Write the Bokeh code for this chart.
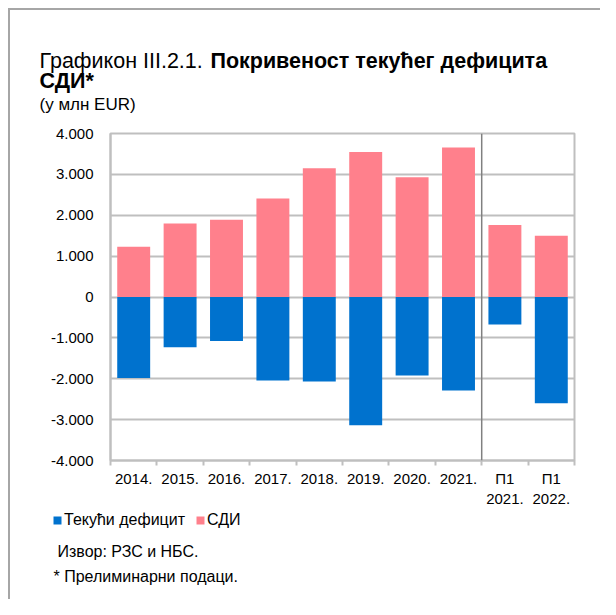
from bokeh.plotting import figure
from bokeh.layouts import column
from bokeh.models import (FixedTicker, Span, Legend, LegendItem, ColumnDataSource, Range1d)
from bokeh.core.properties import value
from bokeh.embed import file_html
from bokeh.resources import INLINE

# ---- data ----
categories = ["2014.", "2015.", "2016.", "2017.", "2018.", "2019.", "2020.", "2021.",
              "П1\n2021.", "П1\n2022."]
fdi = [1230, 1800, 1890, 2410, 3150, 3550, 2930, 3660, 1760, 1500]
current_deficit = [-1980, -1230, -1075, -2040, -2070, -3140, -1920, -2290, -670, -2600]
y_ticks = [-4000, -3000, -2000, -1000, 0, 1000, 2000, 3000, 4000]
y_tick_labels = ["-4.000", "-3.000", "-2.000", "-1.000", "0", "1.000", "2.000", "3.000", "4.000"]
series_names = ["Текући дефицит", "СДИ"]
title_regular = "Графикон III.2.1. "
title_bold_1 = "Покривеност текућег дефицита"
title_bold_2 = "СДИ*"
subtitle = "(у млн EUR)"
notes = ["Извор: РЗС и НБС.", "* Прелиминарни подаци."]

BLUE = "#0072CE"
PINK = "#FF808C"
GRID = "#BFBFBF"
FONT = "Liberation Sans"
TXT = "#000000"

W = 590
HH = 110          # header height
HM = 389          # main chart height
HF = 90           # footer height
OFFX = 100000     # footer offsets (keep its legend-only bars out of view)
OFFY = 100000

xs = list(range(len(categories)))
src = ColumnDataSource(dict(x=xs, fdi=fdi, cd=current_deficit))


def no_align(f):
    try:
        f.frame_align = False
    except Exception:
        pass


def blank(h, x0=0, y0=0):
    f = figure(width=W, height=h, output_backend="svg", toolbar_location=None,
               x_range=Range1d(x0, x0 + W), y_range=Range1d(y0 + h, y0),
               x_axis_location=None, y_axis_location=None,
               min_border=0, outline_line_color=None)
    f.grid.visible = False
    f.background_fill_color = "white"
    f.border_fill_color = "white"
    no_align(f)
    return f


# ---- header ----
head = blank(HH)
TS = 21.5
TX = 29
head.text(x=[TX], y=[50], text=[title_regular], text_font=value(FONT), text_font_size=value(f"{TS}px"),
          text_color=TXT, text_baseline="middle")
head.text(x=[TX + 7.95 * TS], y=[50], text=[title_bold_1], text_font=value(FONT),
          text_font_size=value(f"{TS}px"), text_font_style="bold", text_color=TXT, text_baseline="middle")
head.text(x=[TX], y=[70], text=[title_bold_2], text_font=value(FONT), text_font_size=value(f"{TS}px"),
          text_font_style="bold", text_color=TXT, text_baseline="middle")
head.text(x=[TX], y=[94], text=[subtitle], text_font=value(FONT), text_font_size=value("17px"),
          text_color=TXT, text_baseline="middle")

# ---- main chart ----
p = figure(width=W, height=HM, output_backend="svg", toolbar_location=None,
           x_range=(-0.5, len(categories) - 0.5), y_range=(-4000, 4000),
           min_border_left=100, min_border_right=26, min_border_top=13, min_border_bottom=48)
p.background_fill_color = "white"
p.border_fill_color = "white"
p.outline_line_color = GRID
p.outline_line_width = 2
no_align(p)

p.vbar(x="x", top="cd", bottom=0, width=0.71, source=src, fill_color=BLUE, line_color=None)
p.vbar(x="x", top="fdi", bottom=0, width=0.71, source=src, fill_color=PINK, line_color=None)

p.yaxis.ticker = FixedTicker(ticks=y_ticks)
p.yaxis.major_label_overrides = {t: l for t, l in zip(y_ticks, y_tick_labels)}
p.yaxis.major_tick_line_color = None
p.yaxis.minor_tick_line_color = None
p.yaxis.axis_line_color = GRID
p.yaxis.axis_line_width = 2
p.yaxis.major_label_standoff = 11
p.yaxis.major_label_text_font = FONT
p.yaxis.major_label_text_font_size = "15px"
p.yaxis.major_label_text_color = TXT

p.xaxis.ticker = FixedTicker(ticks=xs, minor_ticks=[i - 0.5 for i in range(len(categories) + 1)])
p.xaxis.major_label_overrides = {i: c for i, c in zip(xs, categories)}
p.xaxis.major_tick_line_color = None
p.xaxis.major_tick_out = 0
p.xaxis.minor_tick_line_color = GRID
p.xaxis.minor_tick_line_width = 2
p.xaxis.minor_tick_out = 5
p.xaxis.minor_tick_in = 0
p.xaxis.axis_line_color = GRID
p.xaxis.axis_line_width = 2
p.xaxis.major_label_standoff = 4
p.xaxis.major_label_text_font = FONT
p.xaxis.major_label_text_font_size = "15px"
p.xaxis.major_label_text_color = TXT

p.xgrid.grid_line_color = None
p.ygrid.grid_line_color = GRID
p.ygrid.grid_line_width = 2

p.add_layout(Span(location=7.5, dimension="height", line_color="#808080", line_width=1.5))

# ---- footer: legend + notes ----
foot = blank(HF, x0=OFFX, y0=OFFY)
lr1 = foot.vbar(x="x", top="cd", width=0.71, source=src, fill_color=BLUE, line_color=None, visible=False)
lr2 = foot.vbar(x="x", top="fdi", width=0.71, source=src, fill_color=PINK, line_color=None, visible=False)
legend = Legend(items=[LegendItem(label=series_names[0], renderers=[lr1]),
                       LegendItem(label=series_names[1], renderers=[lr2])],
                orientation="horizontal", location=(42, HF - 20),
                glyph_width=10, glyph_height=10, label_height=10, label_width=10,
                label_standoff=2, spacing=10, padding=0, margin=0,
                border_line_color=None, background_fill_alpha=0,
                label_text_font=FONT, label_text_font_size="16px", label_text_color=TXT)
foot.add_layout(legend, "center")
foot.text(x=[OFFX + 47, OFFX + 43], y=[OFFY + 42, OFFY + 67], text=notes, text_font=value(FONT),
          text_font_size=value("16px"), text_color=TXT, text_baseline="middle")

layout = column(head, p, foot, spacing=0, margin=(8, 0, 0, 8),
                styles={"border-left": "2px solid #A6A6A6", "border-top": "2px solid #A6A6A6"})

open("out.html", "w").write(file_html(layout, INLINE))
